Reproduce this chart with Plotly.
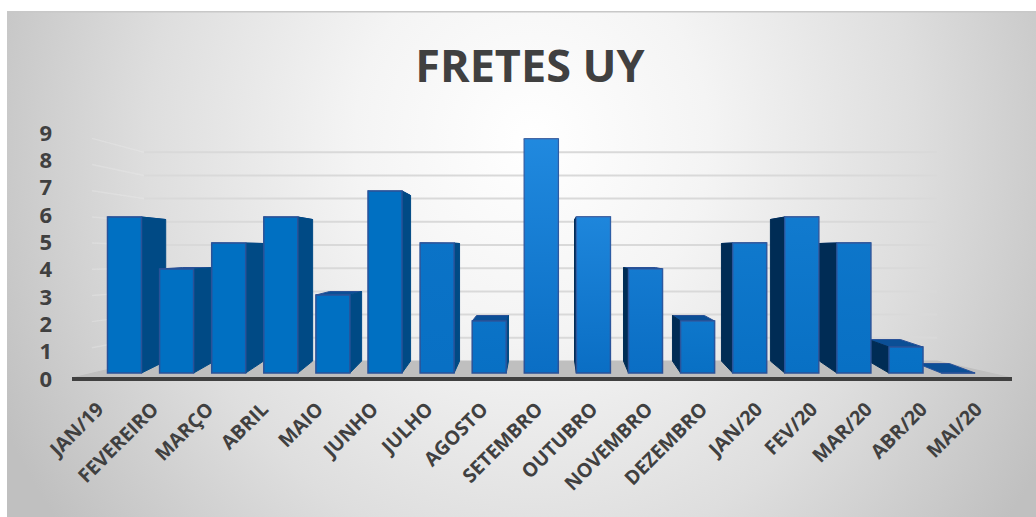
import base64
import plotly.graph_objects as go

# ---- data ----
months = ["JAN/19", "FEVEREIRO", "MARÇO", "ABRIL", "MAIO", "JUNHO", "JULHO", "AGOSTO", "SETEMBRO",
          "OUTUBRO", "NOVEMBRO", "DEZEMBRO", "JAN/20", "FEV/20", "MAR/20", "ABR/20", "MAI/20"]
fretes = [6, 4, 5, 6, 3, 7, 5, 2, 9, 6, 4, 2, 5, 6, 5, 1, 0]
y_ticks = [0, 1, 2, 3, 4, 5, 6, 7, 8, 9]

# ---- styles ----
front_colors = ["#0070c2", "#0070c2", "#0070c2", "#0070c2", "#0070c2", "#0070c2", "#0870c4", "#0870c4", "#0a6ec4",
                "#0a6ec4", "#0a6ec4", "#0870c4", "#0870c4", "#0870c4", "#0870c4", "#0770c4", "#0a57a5"]
gloss = [0, 0, 0, 0, 0, 0, 0.05, 0.05, 0.45, 0.4, 0.2, 0.12, 0.15, 0.18, 0.1, 0.03, 0]
OUTLINE = "#2a5298"
SIDE_L, SIDE_R, TOP = "#004a85", "#002c55", "#0b4f96"
TEXT = "#404040"

# ---- geometry of the projected 3D box (page pixels) ----
W, H = 1036, 517
AX_L, AX_R, AX_Y, UNIT_TICK = 72, 1012, 379, 27.33      # axis line / tick scale
LABEL0, LABEL_STEP = 98, 54.9                           # category tick positions
BAR0, BAR_STEP, BAR_W = 124.5, 52.1, 34                 # front faces
FRONT_Y0, FRONT_UNIT = 373, 26
TOP_Y0, TOP_UNIT = 363.5, 24.0                          # back edge of the bar tops
BACK_Y0 = 361
VP_X, K_X = 545, 0.94                                   # depth foreshortening
WALL_L, WALL_R, WALL_UNIT = 144, 937, 23.2

x_of = lambda px: (px - LABEL0) / LABEL_STEP             # base axis data from page x
y_of = lambda py: (AX_Y - py) / UNIT_TICK                # base axis data from page y
x_range = [x_of(0), x_of(W)]
y_range = [y_of(H), y_of(0)]
x2_range = [(0 - BAR0) / BAR_STEP, (W - BAR0) / BAR_STEP]
y2_range = [(FRONT_Y0 - H) / FRONT_UNIT, FRONT_Y0 / FRONT_UNIT]
back_x = lambda px: VP_X + (px - VP_X) * K_X

fig = go.Figure()


def poly(xs, ys, fill, line=None, width=1):
    fig.add_trace(go.Scatter(x=[x_of(p) for p in xs] + [x_of(xs[0])],
                             y=[y_of(p) for p in ys] + [y_of(ys[0])],
                             mode="lines", fill="toself", fillcolor=fill,
                             line=dict(color=line or fill, width=width),
                             hoverinfo="skip", showlegend=False))


def line(xs, ys, color, width):
    fig.add_trace(go.Scatter(x=[x_of(p) for p in xs], y=[y_of(p) for p in ys], mode="lines",
                             line=dict(color=color, width=width), hoverinfo="skip", showlegend=False))


# walls: gridlines on the back wall and faint ones on the side wall
for v in y_ticks[1:]:
    yb = BACK_Y0 - WALL_UNIT * v
    line([AX_L + 20, WALL_L], [AX_Y - UNIT_TICK * v + 20 / (WALL_L - AX_L) * (yb - AX_Y + UNIT_TICK * v), yb],
         "rgba(236,236,236,0.35)", 1.5)
    line([WALL_L, WALL_R], [yb, yb], "#d9d9d9", 2)

# floor
poly([AX_L, AX_R, WALL_R, WALL_L], [AX_Y - 1, AX_Y - 1, BACK_Y0, BACK_Y0], "#bfbfbf")
# axis line
line([AX_L, AX_R], [AX_Y, AX_Y], TEXT, 4)

# depth faces of the bars
for i, v in enumerate(fretes):
    cx = BAR0 + BAR_STEP * i
    xl, xr = cx - BAR_W / 2, cx + BAR_W / 2
    yf = FRONT_Y0 - FRONT_UNIT * v
    yb = TOP_Y0 - TOP_UNIT * v
    poly([xl, xr, back_x(xr), back_x(xl)], [yf, yf, yb, yb], TOP, OUTLINE)
    if v > 0 and xr < VP_X:
        poly([xr, back_x(xr), back_x(xr), xr], [yf, yb, BACK_Y0, FRONT_Y0], SIDE_L)
    elif v > 0 and xl > VP_X:
        poly([xl, back_x(xl), back_x(xl), xl], [yf, yb, BACK_Y0, FRONT_Y0], SIDE_R)

# front faces
xs = list(range(len(months)))
half = BAR_W / BAR_STEP / 2
fig.add_trace(go.Bar(x=xs, y=fretes, xaxis="x2", yaxis="y2", width=2 * half,
                     marker=dict(color=front_colors, line=dict(color=OUTLINE, width=1.5)),
                     showlegend=False, hovertemplate="%{y}<extra></extra>"))
# lighter sheen towards the top of the front faces
for i, v in enumerate(fretes):
    if gloss[i] > 0:
        fig.add_trace(go.Scatter(x=[i - half, i + half, i + half, i - half, i - half], y=[0, 0, v, v, 0],
                                 xaxis="x2", yaxis="y2", mode="lines", line=dict(width=0),
                                 fill="toself", hoverinfo="skip", showlegend=False,
                                 fillgradient=dict(type="vertical", colorscale=[
                                     [0, "rgba(60,170,255,0)"], [1, f"rgba(60,170,255,{gloss[i]})"]])))

svg = f'''<svg xmlns="http://www.w3.org/2000/svg" width="1029" height="506" viewBox="0 0 1029 506">
<defs><radialGradient id="g" gradientUnits="userSpaceOnUse" cx="0" cy="0" r="1"
 gradientTransform="translate(525 130) scale(590 640)">
<stop offset="0" stop-color="#ffffff"/><stop offset="0.3" stop-color="#f4f4f4"/>
<stop offset="0.65" stop-color="#dedede"/><stop offset="1" stop-color="#c0c0c0"/>
</radialGradient></defs>
<rect width="1029" height="506" fill="url(#g)"/>
<rect width="1029" height="1.5" fill="#c8c8c8"/>
</svg>'''
bg_uri = "data:image/svg+xml;base64," + base64.b64encode(svg.encode()).decode()

fig.update_layout(
    width=W, height=H, margin=dict(l=0, r=0, t=0, b=0),
    paper_bgcolor="white", plot_bgcolor="rgba(0,0,0,0)", barmode="overlay", showlegend=False,
    title=dict(text="FRETES UY", x=530 / W, xanchor="center", y=1 - 66 / H, yanchor="middle",
               font=dict(family="Open Sans", size=45, color=TEXT, weight=700)),
    images=[dict(source=bg_uri, xref="paper", yref="paper", x=7 / W, y=1 - 11 / H,
                 sizex=1029 / W, sizey=506 / H, sizing="stretch", xanchor="left", yanchor="top", layer="below")],
    xaxis=dict(range=x_range, domain=[0, 1], anchor="free", position=(H - AX_Y) / H, side="bottom",
               tickmode="array", tickvals=xs, ticktext=months, tickangle=-45,
               ticks="outside", ticklen=10, tickcolor="rgba(0,0,0,0)", showgrid=False, zeroline=False, showline=False,
               tickfont=dict(family="Open Sans", size=19.5, color=TEXT, weight=700)),
    yaxis=dict(range=y_range, domain=[0, 1], anchor="free", position=52 / W, side="left",
               tickmode="array", tickvals=y_ticks, ticks="", showgrid=False, zeroline=False, showline=False,
               tickfont=dict(family="Open Sans", size=22, color=TEXT, weight=700)),
    xaxis2=dict(range=x2_range, overlaying="x", visible=False, anchor="y2"),
    yaxis2=dict(range=y2_range, overlaying="y", visible=False, anchor="x2"),
)

fig.write_html("out.html", config=dict(displayModeBar=False),
               post_script="document.body.style.margin='0';document.body.style.overflow='hidden';")
